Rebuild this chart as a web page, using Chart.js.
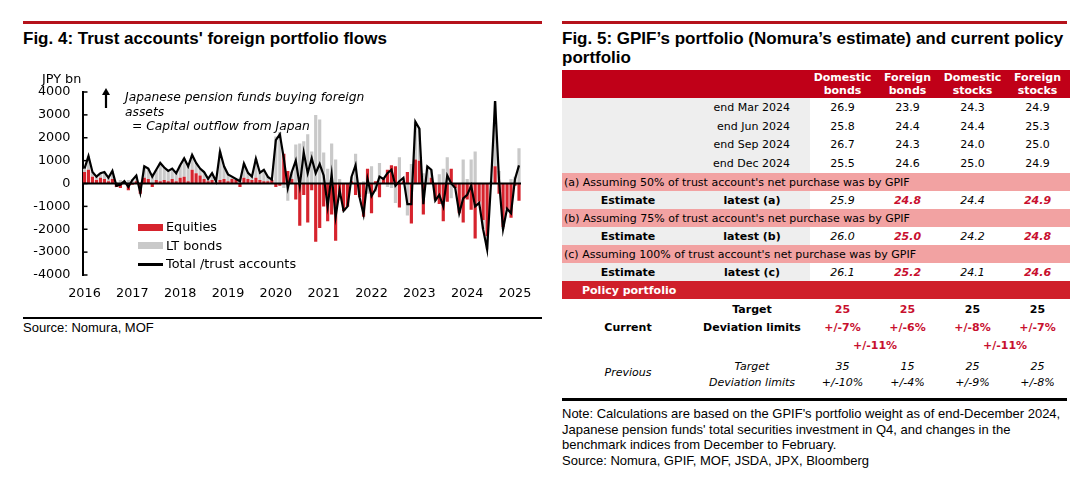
<!DOCTYPE html>
<html>
<head>
<meta charset="utf-8">
<script src="https://cdn.jsdelivr.net/npm/chart.js@4.4.1/dist/chart.umd.min.js"></script>
<style>
  body { margin: 0; width: 1079px; height: 486px; background: #fff; position: relative; overflow: hidden; font-family: "Liberation Sans", Arial, sans-serif; color: #000; }
  .abs { position: absolute; }
  .rule-red { position: absolute; top: 21px; height: 2.5px; background: #b5121b; }
  .rule-blk { position: absolute; height: 2.5px; background: #000; }
  .title { position: absolute; top: 29px; font-weight: bold; font-size: 17px; line-height: 19px; }
  .small { position: absolute; font-size: 13px; line-height: 15.5px; }
  .ann { position: absolute; font-family: "DejaVu Sans"; font-style: italic; font-size: 12.3px; line-height: 14.5px; white-space: nowrap; }
  .leg { position: absolute; font-family: "DejaVu Sans"; font-size: 12.8px; line-height: 14px; white-space: nowrap; }
  #chartBox { position: absolute; left: 0; top: 70px; width: 540px; height: 235px; }

  table.gp { position: absolute; left: 562px; top: 70px; width: 508px; border-collapse: collapse; table-layout: fixed; font-family: "DejaVu Sans"; font-size: 11px; }
  table.gp td { padding: 0; text-align: center; white-space: nowrap; overflow: visible; }
  tr.hd td { height: 28px; background: #c00018; color: #fff; font-weight: bold; line-height: 13px; }
  tr.dt td { height: 18.75px; }
  tr.dt td.lbl { background: #eeeeee; text-align: right; padding-right: 20px; }
  tr.pk td { height: 18px; background: #f2a2a2; text-align: left; padding-left: 2px; }
  tr.es td { height: 18px; font-style: italic; }
  tr.es td.lbl { background: #eeeeee; font-weight: bold; font-style: normal; }
  tr.pp td { height: 18px; background: #cf1f2a; color: #fff; font-weight: bold; text-align: left; padding-left: 20px; }
  tr.cu td { height: 18px; font-weight: bold; }
  tr.pv td { font-style: italic; }
  .rd { color: #c8102e; font-weight: bold; }
</style>
</head>
<body>

<!-- left panel -->
<div class="rule-red" style="left:23px;width:519px"></div>
<div class="title" style="left:23px">Fig. 4: Trust accounts' foreign portfolio flows</div>

<div id="chartBox"><canvas id="flowChart"></canvas></div>

<div class="leg" style="left:42px;top:72px">JPY bn</div>

<svg class="abs" style="left:102px;top:88px" width="8" height="20">
  <polygon points="0,7 4,0 8,7" fill="#000"/>
  <rect x="2.9" y="6" width="2.2" height="14" fill="#000"/>
</svg>
<div class="ann" style="left:125px;top:90px">Japanese pension funds buying foreign</div>
<div class="ann" style="left:125px;top:104.5px">assets</div>
<div class="ann" style="left:132px;top:119px">= Capital outflow from Japan</div>

<div class="abs" style="left:138px;top:224px;width:25px;height:7px;background:rgb(214,35,45)"></div>
<div class="leg" style="left:166px;top:220px">Equities</div>
<div class="abs" style="left:138px;top:242px;width:25px;height:7px;background:#c9c9c9"></div>
<div class="leg" style="left:166px;top:239px">LT bonds</div>
<div class="abs" style="left:138px;top:263px;width:25px;height:2.5px;background:#000"></div>
<div class="leg" style="left:166px;top:257px">Total /trust accounts</div>

<div class="rule-blk" style="left:23px;top:316.5px;width:519px"></div>
<div class="small" style="left:23px;top:320px">Source: Nomura, MOF</div>

<!-- right panel -->
<div class="rule-red" style="left:562px;width:505px"></div>
<div class="title" style="left:562px;width:515px">Fig. 5: GPIF’s portfolio (Nomura’s estimate) and current policy portfolio</div>

<table class="gp">
  <colgroup><col style="width:132px"><col style="width:116px"><col style="width:65px"><col style="width:65px"><col style="width:65px"><col style="width:65px"></colgroup>
  <tr class="hd"><td colspan="2"></td><td>Domestic<br>bonds</td><td>Foreign<br>bonds</td><td>Domestic<br>stocks</td><td>Foreign<br>stocks</td></tr>
  <tr class="dt"><td class="lbl" colspan="2">end Mar 2024</td><td>26.9</td><td>23.9</td><td>24.3</td><td>24.9</td></tr>
  <tr class="dt"><td class="lbl" colspan="2">end Jun 2024</td><td>25.8</td><td>24.4</td><td>24.4</td><td>25.3</td></tr>
  <tr class="dt"><td class="lbl" colspan="2">end Sep 2024</td><td>26.7</td><td>24.3</td><td>24.0</td><td>25.0</td></tr>
  <tr class="dt"><td class="lbl" colspan="2">end Dec 2024</td><td>25.5</td><td>24.6</td><td>25.0</td><td>24.9</td></tr>
  <tr class="pk"><td colspan="6">(a) Assuming 50% of trust account's net purchase was by GPIF</td></tr>
  <tr class="es"><td class="lbl">Estimate</td><td class="lbl">latest (a)</td><td>25.9</td><td class="rd">24.8</td><td>24.4</td><td class="rd">24.9</td></tr>
  <tr class="pk"><td colspan="6">(b) Assuming 75% of trust account's net purchase was by GPIF</td></tr>
  <tr class="es"><td class="lbl">Estimate</td><td class="lbl">latest (b)</td><td>26.0</td><td class="rd">25.0</td><td>24.2</td><td class="rd">24.8</td></tr>
  <tr class="pk"><td colspan="6">(c) Assuming 100% of trust account's net purchase was by GPIF</td></tr>
  <tr class="es"><td class="lbl">Estimate</td><td class="lbl">latest (c)</td><td>26.1</td><td class="rd">25.2</td><td>24.1</td><td class="rd">24.6</td></tr>
  <tr class="pp"><td colspan="6">Policy portfolio</td></tr>
  <tr class="cu" style="height:1px"><td colspan="6" style="height:1px"></td></tr>
  <tr class="cu"><td></td><td>Target</td><td class="rd">25</td><td class="rd">25</td><td>25</td><td>25</td></tr>
  <tr class="cu"><td>Current</td><td>Deviation limits</td><td class="rd">+/-7%</td><td class="rd">+/-6%</td><td class="rd">+/-8%</td><td class="rd">+/-7%</td></tr>
  <tr class="cu"><td colspan="2"></td><td colspan="2" class="rd">+/-11%</td><td colspan="2" class="rd">+/-11%</td></tr>
  <tr class="pv"><td rowspan="2">Previous</td><td style="height:19px;vertical-align:bottom">Target</td><td style="vertical-align:bottom">35</td><td style="vertical-align:bottom">15</td><td style="vertical-align:bottom">25</td><td style="vertical-align:bottom">25</td></tr>
  <tr class="pv"><td style="height:18px">Deviation limits</td><td>+/-10%</td><td>+/-4%</td><td>+/-9%</td><td>+/-8%</td></tr>
</table>

<div class="rule-blk" style="left:562px;top:398px;width:505px"></div>
<div class="small" style="left:562px;top:406px;width:515px">Note: Calculations are based on the GPIF's portfolio weight as of end-December 2024, Japanese pension funds' total securities investment in Q4, and changes in the benchmark indices from December to February.<br>Source: Nomura, GPIF, MOF, JSDA, JPX, Bloomberg</div>

<script>
// Years shown on the axis, monthly data Jan 2016 - Feb 2025
const years = ['2016', '2017', '2018', '2019', '2020', '2021', '2022', '2023', '2024', '2025'];
const monthNames = ['Jan', 'Feb', 'Mar', 'Apr', 'May', 'Jun', 'Jul', 'Aug', 'Sep', 'Oct', 'Nov', 'Dec'];
const monthCount = 110;

// JPY bn
const equities = [
  500, 600, 300, 150, 250, 200, 100, 200, -150, -200, 100, -300,
  -50, 100, -450, 250, 200, -150, 150, 100, 150, 100, 200, 100,
  250, 300, 100, 600, 450, 350, 200, 100, 150, 50, 150, 200,
  100, 200, 150, -150, 250, 200, 150, 250, 150, 100, 100, 150,
  -150, -100, 1300, 550, 200, -700, -1850, -500, -1700, -300, -2550, -1950,
  -1000, -1650, -1350, -2500, -500, -1200, -1000, 100, -500, -600, -1450, 650,
  -1300, 100, -600, 200, 600, 800, 750, -1050, 100, 500, -1750, 1050,
  1000, -1350, 0, 250, -700, -900, -1650, -800, 650, -200, -1300, -1700,
  -700, -1150, -2400, -800, -1600, -2300, 0, 750, -450, -1900, -1100, -1500,
  -100, -750
];
const ltBonds = [
  150, 600, 200, 150, 200, 300, 150, 350, 50, 150, 0, 150,
  200, 250, 50, 500, 450, 450, 450, 800, 550, 450, 450, 350,
  550, 800, 650, 650, 450, 300, 300, 100, 300, 50, 1250, 550,
  300, 100, 50, 250, 620, 270, 150, 830, 320, 500, 190, 20,
  2050, 2250, -200, -750, 300, 1700, 1750, 1850, 2150, 1400, 3000, 2800,
  1350, 650, 1750, 1050, 200, 0, 0, 200, 1300, 0, 100, -450,
  750, -350, 900, 0, -150, -200, -850, 1150, 150, -1400, 850, 1650,
  1400, 450, 750, 350, -50, 400, 650, 1150, -650, 0, 0, 1050,
  200, 1050, 1400, -50, -400, -580, 100, 2850, 550, -100, 0, 200,
  300, 1540
];
const totalTrust = [
  650, 1200, 500, 300, 450, 500, 250, 550, -100, -50, 100, -150,
  150, 350, -400, 750, 650, 300, 600, 900, 700, 550, 650, 450,
  800, 1100, 750, 1250, 900, 650, 500, 200, 450, 100, 1400, 750,
  400, 300, 200, 100, 870, 470, 300, 1080, 470, 600, 290, 170,
  1900, 2150, 1100, -200, 500, 1000, -100, 1350, 450, 1100, 450, 850,
  350, -1000, 400, -1450, -300, -1200, -1000, 300, 800, -600, -1350, 200,
  -550, -250, 300, 200, 450, 600, -100, 100, 250, -900, -900, 2700,
  2400, -900, 750, 600, -750, -500, -1000, 350, 0, -200, -1300, -650,
  -500, -100, -1000, -850, -2000, -2880, 100, 3600, 100, -2000, -1100, -1300,
  200, 790
];

const labels = [];
for (let i = 0; i < monthCount; i++) {
  labels.push(monthNames[i % 12] + ' ' + years[Math.floor(i / 12)]);
}

// zero line and small inward ticks on the value axis
const axisMarks = {
  id: 'axisMarks',
  afterDatasetsDraw(chart) {
    const c = chart.ctx, a = chart.chartArea, y = chart.scales.y;
    c.save();
    c.strokeStyle = '#000';
    c.lineWidth = 2;
    c.beginPath();
    c.moveTo(a.left, y.getPixelForValue(0));
    c.lineTo(a.right, y.getPixelForValue(0));
    c.stroke();
    c.lineWidth = 1.5;
    y.ticks.forEach(t => {
      const py = y.getPixelForValue(t.value);
      c.beginPath();
      c.moveTo(a.left, py);
      c.lineTo(a.left + 5, py);
      c.stroke();
    });
    c.restore();
  }
};

Chart.defaults.font.family = 'DejaVu Sans';
Chart.defaults.font.size = 12.8;
Chart.defaults.color = '#000';

new Chart(document.getElementById('flowChart'), {
  type: 'bar',
  data: {
    labels: labels,
    datasets: [
      {
        type: 'line',
        label: 'Total /trust accounts',
        data: totalTrust,
        borderColor: '#000',
        borderWidth: 2.2,
        pointRadius: 0,
        tension: 0,
        stack: 'total',
        order: 0
      },
      {
        label: 'Equities',
        data: equities,
        backgroundColor: 'rgb(214,35,45)',
        stack: 'flows',
        order: 1,
        barPercentage: 0.8,
        categoryPercentage: 1
      },
      {
        label: 'LT bonds',
        data: ltBonds,
        backgroundColor: '#c9c9c9',
        stack: 'flows',
        order: 2,
        barPercentage: 0.8,
        categoryPercentage: 1
      }
    ]
  },
  options: {
    responsive: true,
    maintainAspectRatio: false,
    animation: false,
    layout: { padding: { top: 22, right: 19, bottom: 0, left: 0 } },
    plugins: { legend: { display: false }, tooltip: { enabled: false } },
    scales: {
      x: {
        stacked: true,
        grid: { display: false },
        border: { display: false },
        ticks: {
          autoSkip: false,
          maxRotation: 0,
          padding: 3,
          callback: (v, i) => (i % 12 === 0 ? years[i / 12] : '')
        },
        afterFit: s => { s.height = 30; }
      },
      y: {
        stacked: true,
        min: -4000,
        max: 4000,
        grid: { display: false, drawTicks: false },
        border: { display: true, color: '#000', width: 2 },
        ticks: { stepSize: 1000, padding: 12, callback: v => String(v) },
        afterFit: s => { s.width = 82.5; }
      }
    }
  },
  plugins: [axisMarks]
});
</script>
</body>
</html>
